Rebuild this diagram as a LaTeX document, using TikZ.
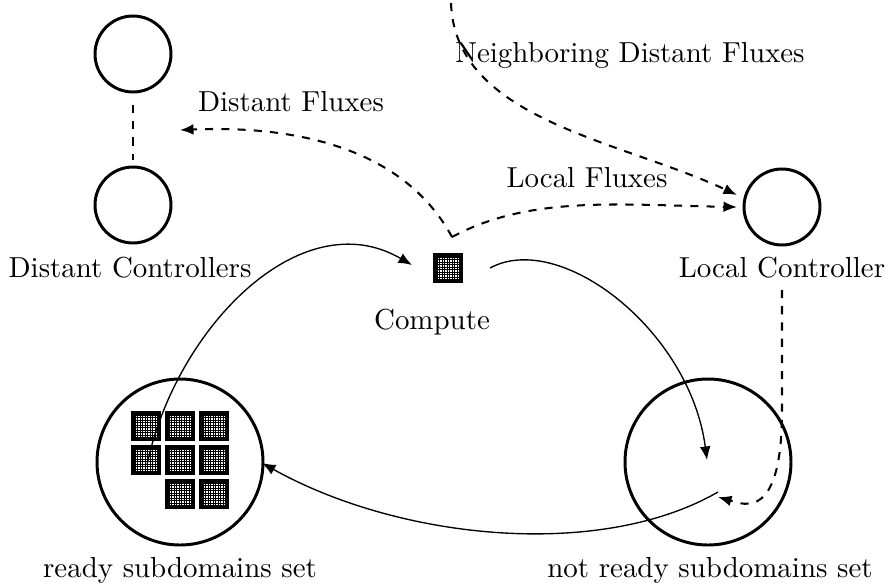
\documentclass[tikz,border=0pt]{standalone}
\usetikzlibrary{arrows.meta}
\begin{document}
\begin{tikzpicture}[x=0.013cm,y=-0.013cm,
  font=\fontsize{10.7}{13}\selectfont,
  ctrl/.style={circle,draw,line width=1.1pt,minimum size=0.988cm,inner sep=0pt},
  setc/.style={circle,draw,line width=1.1pt,minimum size=2.158cm,inner sep=0pt},
  lbl/.style={inner sep=1pt},
  flux/.style={dashed,line width=0.75pt,-{Latex[length=5pt,width=4pt]}},
  flow/.style={line width=0.5pt,-{Latex[length=5pt,width=4pt]}},
  link/.style={dashed,line width=1.1pt}]
\useasboundingbox (0,0) rectangle (890,584);
\newcommand{\gridbox}[2]{%
  \fill[white] (#1-15,#2-15) rectangle (#1+15,#2+15);
  \draw[line width=0.3pt,step=0.0325cm,shift={(#1-11,#2-11)}] (0,0) grid (22,22);
  \draw[line width=1.5pt] (#1-13,#2-13) rectangle (#1+13,#2+13);
}
% controllers
\node[ctrl] (dc1) at (133,54) {};
\node[ctrl] (dc2) at (133,205) {};
\node[ctrl] (lc) at (782,207) {};
\draw[link] (133,105) -- (133,160);
% sets
\node[setc] (ready) at (180,462) {};
\node[setc] (notready) at (708,462) {};
% labels
\node[lbl] (ldc) at (130,268) {Distant Controllers};
\node[lbl] (llc) at (782,268) {Local Controller};
\node[lbl] (lcomp) at (432,322) {Compute};
\node[lbl] at (180,570) {ready subdomains set};
\node[lbl] at (710,570) {not ready subdomains set};
\node[lbl] at (291,102) {Distant Fluxes};
\node[lbl] at (587,178) {Local Fluxes};
\node[lbl] at (630,55) {Neighboring Distant Fluxes};
% grid boxes
\gridbox{146}{426}\gridbox{180}{426}\gridbox{214}{426}
\gridbox{146}{460}\gridbox{180}{460}\gridbox{214}{460}
\gridbox{180}{494}\gridbox{214}{494}
\gridbox{448}{268}
\node[minimum size=0.39cm,inner sep=0pt] (comp) at (448,268) {};
% coordinates
\coordinate (fx) at (452,237);
\coordinate (top) at (451,3);
\coordinate (dfend) at (180,130);
\coordinate (rs) at (147,465);
\coordinate (ce) at (412,265);
\coordinate (cs) at (490,268);
\coordinate (nre) at (707,460);
\coordinate (nrs) at (718,492);
\coordinate (re) at (262,463);
\coordinate (lcs) at (782,290);
\coordinate (lce) at (718,497);
\coordinate (lcin) at (737,207);
\coordinate (lcin2) at (737,195);
% fluxes
\draw[flux] (fx) .. controls (405,150) and (300,125) .. (dfend);
\draw[flux] (fx) .. controls (530,195) and (620,205) .. (lcin);
\draw[flux] (top) .. controls (455,120) and (620,140) .. (lcin2);
\draw[flux] (lcs) -- (782,410) .. controls (782,520) and (745,505) .. (lce);
% flows
\draw[flow] (rs) .. controls (175,330) and (300,200) .. (ce);
\draw[flow] (cs) .. controls (560,230) and (690,330) .. (nre);
\draw[flow] (nrs) .. controls (600,560) and (400,540) .. (re);
\end{tikzpicture}
\end{document}
